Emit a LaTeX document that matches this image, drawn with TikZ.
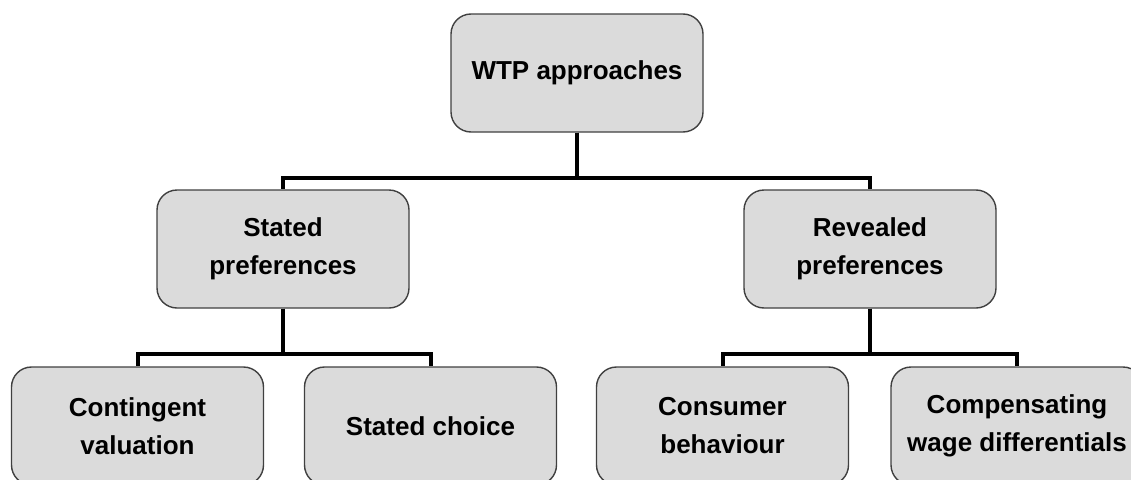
\documentclass[tikz,border=0pt]{standalone}
\usepackage{fontspec}
\setmainfont{Liberation Sans}
\begin{document}
\begin{tikzpicture}[x=1pt,y=-1pt,
  box/.style={draw=black!75, line width=1.4pt, fill=black!14, rounded corners=20pt,
    minimum width=252pt, minimum height=118pt, inner sep=0pt, align=center,
    font=\fontsize{26}{38}\selectfont\bfseries},
  conn/.style={draw=black, line width=4pt}]
\useasboundingbox (0,0) rectangle (1131,479);
\clip (0,0) rectangle (1131,479);
\node[box] (wtp) at (577,73) {WTP approaches};
\node[box] (sp) at (283,249) {Stated\\preferences};
\node[box] (rp) at (870,249) {Revealed\\preferences};
\node[box] (cv) at (137.5,426) {Contingent\\valuation};
\node[box] (sc) at (430.5,426) {Stated choice};
\node[box] (cb) at (722.5,426) {Consumer\\behaviour};
\node[box] (cw) at (1017,426) {Compensating\\wage differentials};
\draw[conn] (wtp.south) -- ++(0,45) -| (sp.north);
\draw[conn] (wtp.south) -- ++(0,45) -| (rp.north);
\draw[conn] (sp.south) -- ++(0,45) -| (cv.north);
\draw[conn] (sp.south) -- ++(0,45) -| (sc.north);
\draw[conn] (rp.south) -- ++(0,45) -| (cb.north);
\draw[conn] (rp.south) -- ++(0,45) -| (cw.north);
\end{tikzpicture}
\end{document}
